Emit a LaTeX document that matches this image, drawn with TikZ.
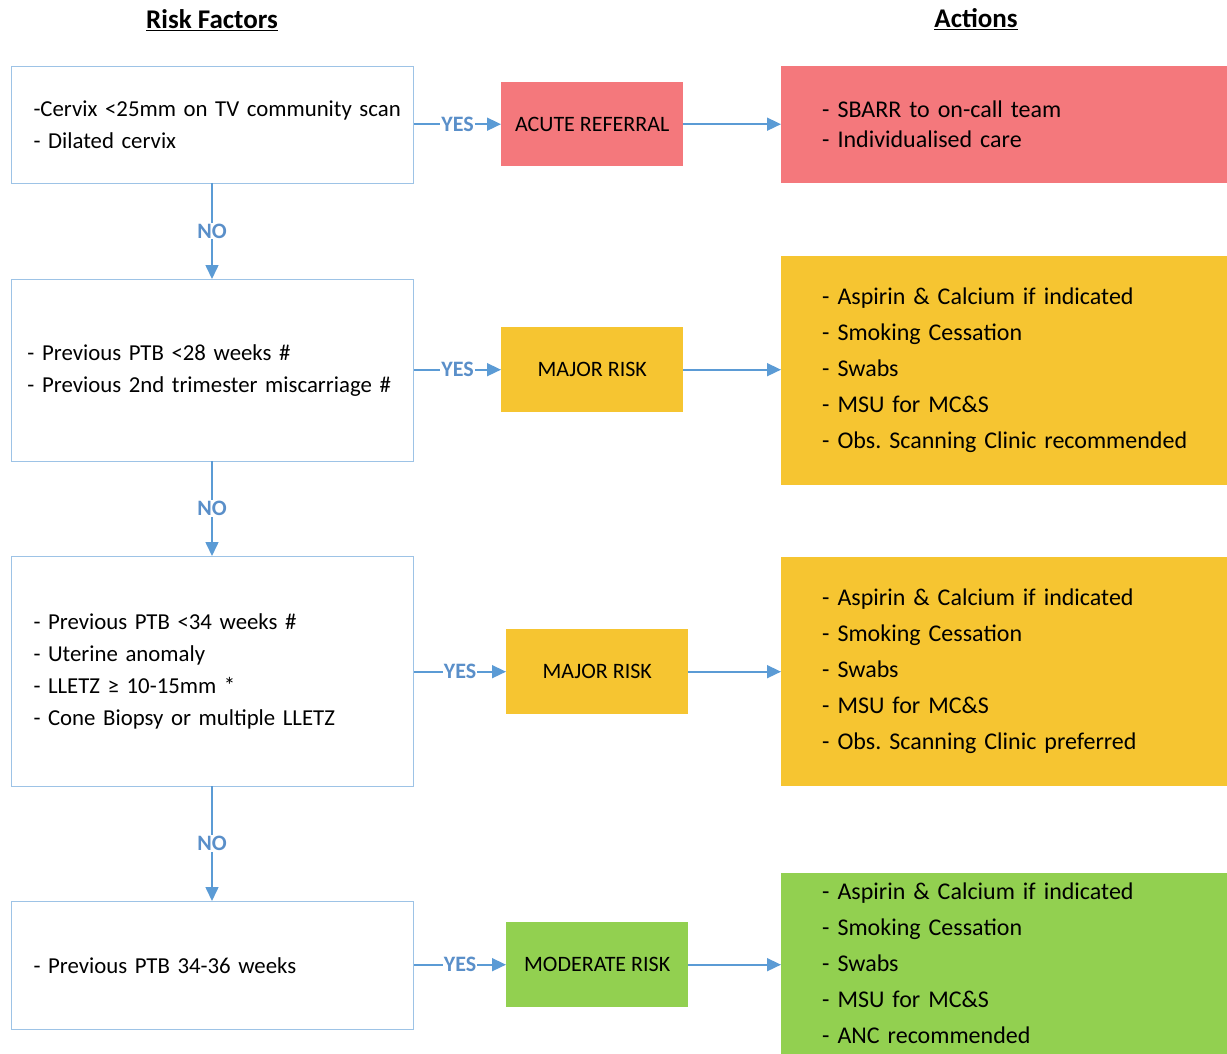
\documentclass[tikz,border=0pt]{standalone}
\usepackage{fontspec}
\setmainfont{Carlito}
\usetikzlibrary{arrows.meta,positioning}
\definecolor{pinkbox}{HTML}{F4787C}
\definecolor{goldbox}{HTML}{F6C531}
\definecolor{greenbox}{HTML}{92D050}
\definecolor{arrowblue}{HTML}{5B9BD5}
\definecolor{labelblue}{HTML}{5A8FC9}
\definecolor{borderblue}{HTML}{9DC3E6}
\newcommand{\lpad}[1]{\leftskip=#1\relax}
\tikzset{
  riskbox/.style={draw=borderblue, line width=1pt, fill=white, anchor=north west, align=left,
    font=\fontsize{22.8}{32}\selectfont, inner ysep=0pt},
  levelbox/.style={anchor=north west, align=center, inner sep=0pt,
    font=\fontsize{22}{26}\selectfont},
  actbox/.style={anchor=north west, align=left, inner ysep=0pt, inner xsep=20.5pt, text width=405pt,
    font=\fontsize{24}{36}\selectfont},
  conn/.style={draw=arrowblue, line width=1.6pt, -{Triangle[length=14pt,width=13pt]}},
  lab/.style={fill=white, text=labelblue, font=\fontsize{22}{24}\selectfont\bfseries, inner sep=1pt},
  header/.style={font=\fontsize{27}{30}\selectfont\bfseries}
}
\begin{document}
\frenchspacing
\begin{tikzpicture}[x=1pt,y=-1pt]
\useasboundingbox (0,0) rectangle (1227,1054);
% headers
\node[header] (h1) at (212,20) {\underline{Risk Factors}};
\node[header] (h2) at (976,19) {\underline{Actions}};
% risk boxes
\node[riskbox, minimum width=402pt, minimum height=117pt, text width=380pt, inner xsep=11pt] (r1) at (11,66)
  {\lpad{11pt}-Cervix <25mm on TV community scan\\- Dilated cervix\par};
\node[riskbox, minimum width=402pt, minimum height=182pt, text width=386pt, inner xsep=8pt] (r2) at (11,279)
  {\lpad{8pt}- Previous PTB <28 weeks \#\\- Previous 2nd trimester miscarriage \#\par};
\node[riskbox, minimum width=402pt, minimum height=230pt, text width=380pt, inner xsep=11pt] (r3) at (11,556)
  {\lpad{11pt}- Previous PTB <34 weeks \#\\- Uterine anomaly\\- LLETZ ≥ 10-15mm *\\- Cone Biopsy or multiple LLETZ\par};
\node[riskbox, minimum width=402pt, minimum height=128pt, text width=380pt, inner xsep=11pt] (r4) at (11,901)
  {\lpad{11pt}- Previous PTB 34-36 weeks\par};
% level boxes
\node[levelbox, fill=pinkbox, minimum width=182pt, minimum height=84pt] (l1) at (501,82) {ACUTE REFERRAL};
\node[levelbox, fill=goldbox, minimum width=182pt, minimum height=85pt] (l2) at (501,327) {MAJOR RISK};
\node[levelbox, fill=goldbox, minimum width=182pt, minimum height=85pt] (l3) at (506,629) {MAJOR RISK};
\node[levelbox, fill=greenbox, minimum width=182pt, minimum height=85pt] (l4) at (506,922) {MODERATE RISK};
% action boxes
\node[actbox, fill=pinkbox, minimum width=446pt, minimum height=117pt,
  font=\fontsize{24}{30}\selectfont] (a1) at (781,66)
  {\lpad{20.5pt}- SBARR to on-call team\\- Individualised care\par};
\node[actbox, fill=goldbox, minimum width=446pt, minimum height=229pt] (a2) at (781,256)
  {\lpad{20.5pt}- Aspirin \& Calcium if indicated\\- Smoking Cessation\\- Swabs\\- MSU for MC\&S\\- Obs. Scanning Clinic recommended\par};
\node[actbox, fill=goldbox, minimum width=446pt, minimum height=229pt] (a3) at (781,557)
  {\lpad{20.5pt}- Aspirin \& Calcium if indicated\\- Smoking Cessation\\- Swabs\\- MSU for MC\&S\\- Obs. Scanning Clinic preferred\par};
\node[actbox, fill=greenbox, minimum width=446pt, minimum height=181pt] (a4) at (781,873)
  {\lpad{20.5pt}- Aspirin \& Calcium if indicated\\- Smoking Cessation\\- Swabs\\- MSU for MC\&S\\- ANC recommended\par};
% YES connectors
\draw[conn] (r1.east |- l1.west) -- node[lab, pos=0.5] {YES} (l1.west);
\draw[conn] (r2.east |- l2.west) -- node[lab, pos=0.5] {YES} (l2.west);
\draw[conn] (r3.east |- l3.west) -- node[lab, pos=0.5] {YES} (l3.west);
\draw[conn] (r4.east |- l4.west) -- node[lab, pos=0.5] {YES} (l4.west);
% level to action
\draw[conn] (l1.east) -- (a1.west |- l1.east);
\draw[conn] (l2.east) -- (a2.west |- l2.east);
\draw[conn] (l3.east) -- (a3.west |- l3.east);
\draw[conn] (l4.east) -- (a4.west |- l4.east);
% NO connectors
\draw[conn] (212,183) -- node[lab, pos=0.5] {NO} (212,279);
\draw[conn] (212,461) -- node[lab, pos=0.5] {NO} (212,556);
\draw[conn] (212,786) -- node[lab, pos=0.5] {NO} (212,901);
\end{tikzpicture}
\end{document}
